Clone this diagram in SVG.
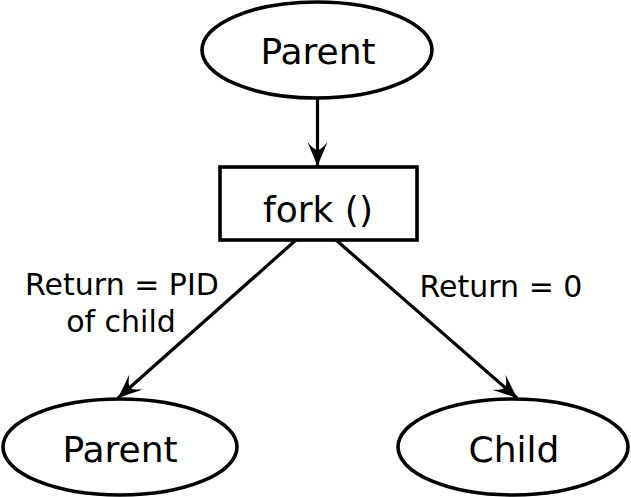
<svg xmlns="http://www.w3.org/2000/svg" width="631" height="497" viewBox="0 0 631 497">
<style>
.shape{fill:#fff;stroke:#000;stroke-width:3.6}
.edge{fill:none;stroke:#000;stroke-width:3.2}
.t{font-family:"DejaVu Sans",sans-serif;fill:#000;text-anchor:middle}
.big{font-size:36px}
.lbl{font-size:30px}
</style>
<defs>
<marker id="arr" markerUnits="userSpaceOnUse" markerWidth="30" markerHeight="26" viewBox="-26 -13 28 26" refX="0" refY="0" orient="auto">
<path d="M0,0 L-24,-10 Q-16,-3.5 -16,0 Q-16,3.5 -24,10 Z" fill="#000"/>
</marker>
</defs>
<rect width="631" height="497" fill="#fff"/>
<g id="connectors">
<line class="edge" x1="317.5" y1="99" x2="317.5" y2="166" marker-end="url(#arr)"/>
<line class="edge" x1="296" y1="240" x2="118" y2="398" marker-end="url(#arr)"/>
<line class="edge" x1="336" y1="240" x2="517" y2="398" marker-end="url(#arr)"/>
</g>
<g id="node-parent-top">
<ellipse class="shape" cx="317" cy="50" rx="115" ry="48"/>
<text class="t big" x="318" y="64">Parent</text>
</g>
<g id="node-fork">
<rect class="shape" x="220" y="167" width="197" height="73"/>
<text class="t big" x="318" y="222">fork ()</text>
</g>
<g id="node-parent-bottom">
<ellipse class="shape" cx="120" cy="447" rx="117" ry="48"/>
<text class="t big" x="120" y="462">Parent</text>
</g>
<g id="node-child">
<ellipse class="shape" cx="513" cy="447" rx="115" ry="48"/>
<text class="t big" x="514" y="462">Child</text>
</g>
<g id="labels">
<text class="t lbl" x="122" y="295">Return = PID</text>
<text class="t lbl" x="121" y="332">of child</text>
<text class="t lbl" x="501" y="297">Return = 0</text>
</g>
</svg>
